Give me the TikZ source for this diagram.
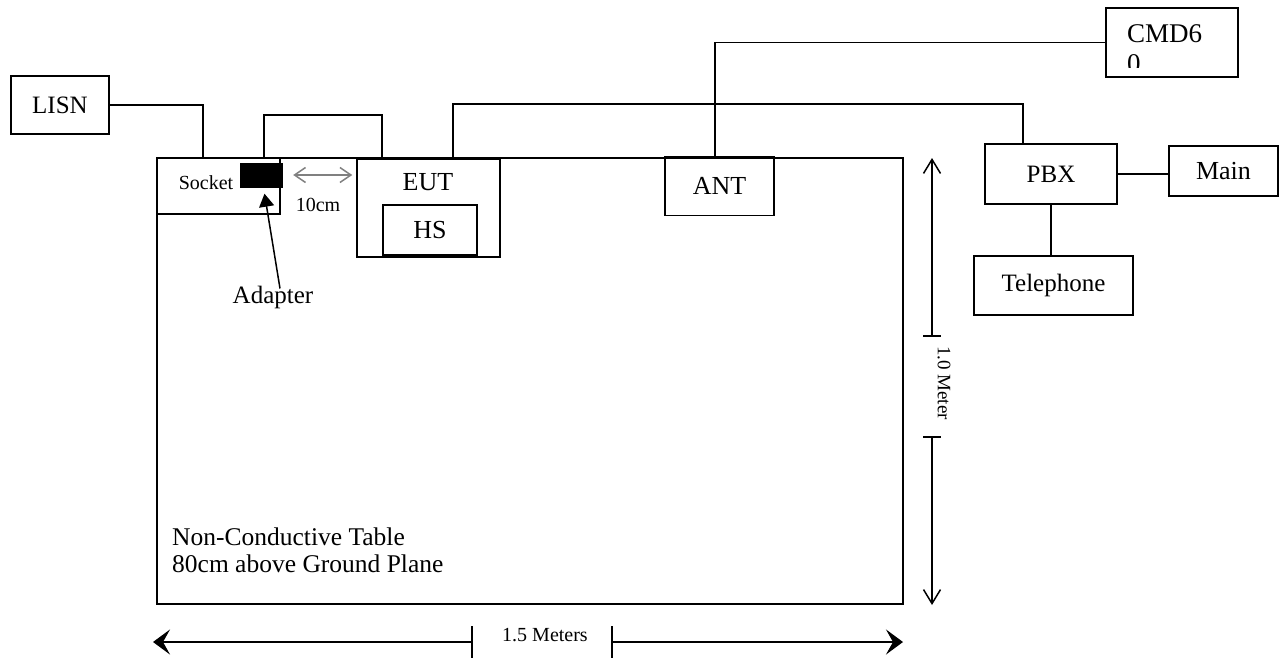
\documentclass[tikz,border=0pt]{standalone}
\usepackage{fontspec}
\setmainfont{Liberation Serif}
\usetikzlibrary{arrows.meta}
\newcommand{\fsz}[1]{\fontsize{#1}{#1}\selectfont}
\tikzset{
  box/.style={draw, line width=1.5pt, inner sep=0pt},
  wire/.style={line width=1.5pt},
  lbl/.style={inner sep=0pt, font=\fsz{25}},
  small/.style={inner sep=0pt, font=\fsz{20}},
}

\begin{document}
\begin{tikzpicture}[x=1pt,y=-1pt]
            \useasboundingbox (0,0) rectangle (1284,661);
            \node[draw, line width=2pt, minimum width=746pt, minimum height=446pt, inner sep=0pt] (table) at (530,381) {};
            \node[lbl, anchor=north west, align=left, font=\fontsize{25.5}{27}\selectfont] (tablelbl) at (172,527.5) {Non-Conductive Table\\80cm above Ground Plane};

            \node[box, minimum width=98pt, minimum height=58pt, font=\fsz{25}] (lisn) at (60,105) {LISN};
            \node[box, minimum width=123pt, minimum height=56pt] (socket) at (218.5,186) {};
            \node[small] (socketlbl) at (206,183) {Socket};
            \node[fill=black, minimum width=43pt, minimum height=25pt, inner sep=0pt] (adapter) at (261.5,175) {};
            \node[lbl] (adapterlbl) at (273,297) {Adapter};

            \node[box, minimum width=143pt, minimum height=98pt] (eut) at (428.5,208) {};
            \node[lbl, font=\fsz{26}] (eutlbl) at (428,182) {EUT};
            \node[box, minimum width=94pt, minimum height=50pt, font=\fsz{26}] (hs) at (430,230) {HS};
            \node[box, minimum width=109pt, minimum height=59pt, font=\fsz{26}] (ant) at (719.5,186) {ANT};

            \node[box, minimum width=132pt, minimum height=69pt] (cmd) at (1172,42.5) {};
            \node[lbl, anchor=base west, font=\fsz{27}] (cmdlbl) at (1127,42) {CMD6};
            \begin{scope}
              \clip (1100,0) rectangle (1240,67);
              \node[lbl, anchor=base west, font=\fsz{27}] (cmdlbltwo) at (1127,73) {0};
            \end{scope}

            \node[box, minimum width=132pt, minimum height=60pt, font=\fsz{25}] (pbx) at (1051,174) {PBX};
            \node[box, minimum width=109pt, minimum height=50pt, font=\fsz{26}] (main) at (1223.5,171) {Main};
            \node[box, minimum width=159pt, minimum height=59pt, font=\fsz{25}] (tel) at (1053.5,285.5) {Telephone};

            \coordinate (lisnin) at (203,158);
            \coordinate (adpout) at (264,158);
            \coordinate (adpbend) at (264,115);
            \coordinate (eutin) at (382,158);
            \coordinate (eutout) at (453,158);
            \coordinate (eutbend) at (453,104);
            \coordinate (pbxin) at (1023,144);
            \coordinate (antin) at (715,158);
            \draw[wire] (lisn.east) -| (lisnin);
            \draw[wire] (adpout) -- (adpbend) -| (eutin);
            \draw[wire] (eutout) -- (eutbend) -| (pbxin);
            \draw[wire] (cmd.west) -| (antin);
            \draw[wire] (pbx.east) -- (pbx.east -| main.west);
            \draw[wire] (pbx.south) -- (pbx.south |- tel.north);

            \draw[gray, line width=1.5pt, {Straight Barb[length=11pt,width=15pt]}-{Straight Barb[length=11pt,width=15pt]}] ([xshift=10pt]adapter.east) -- ([xshift=-4pt]adapter.east -| eut.west);
            \node[small] (gaplbl) at (318,205) {10cm};
            \draw[line width=1.5pt, -{Triangle[length=13pt,width=15pt]}] ([xshift=7pt,yshift=-3pt]adapterlbl.north) -- ([xshift=3pt,yshift=-6pt]adapter.south);

            \coordinate (vtop) at (932,158);
            \coordinate (vtickA) at (932,336);
            \coordinate (vtickB) at (932,437);
            \coordinate (vbot) at (932,605);
            \draw[line width=1.5pt, -{Straight Barb[length=14pt,width=17pt]}] (vtickA) -- (vtop);
            \draw[line width=1.5pt, -{Straight Barb[length=14pt,width=17pt]}] (vtickB) -- (vbot);
            \draw[line width=1.5pt] ([xshift=-9pt]vtickA) -- ([xshift=9pt]vtickA);
            \draw[line width=1.5pt] ([xshift=-9pt]vtickB) -- ([xshift=9pt]vtickB);
            \node[inner sep=0pt, font=\fsz{19}, rotate=-90] (vlbl) at (944,383) {1.0 Meter};

            \coordinate (hleft) at (153,642);
            \coordinate (htickA) at (472,642);
            \coordinate (htickB) at (612,642);
            \coordinate (hright) at (903,642);
            \draw[line width=2pt, -{Stealth[length=17pt,width=25pt,inset=7pt]}] (htickA) -- (hleft);
            \draw[line width=2pt, -{Stealth[length=17pt,width=25pt,inset=7pt]}] (htickB) -- (hright);
            \draw[line width=1.5pt] ([yshift=16pt]htickA) -- ([yshift=-16pt]htickA);
            \draw[line width=1.5pt] ([yshift=16pt]htickB) -- ([yshift=-16pt]htickB);
            \node[small] (hlbl) at (545,635) {1.5 Meters};
        \end{tikzpicture}
\end{document}
